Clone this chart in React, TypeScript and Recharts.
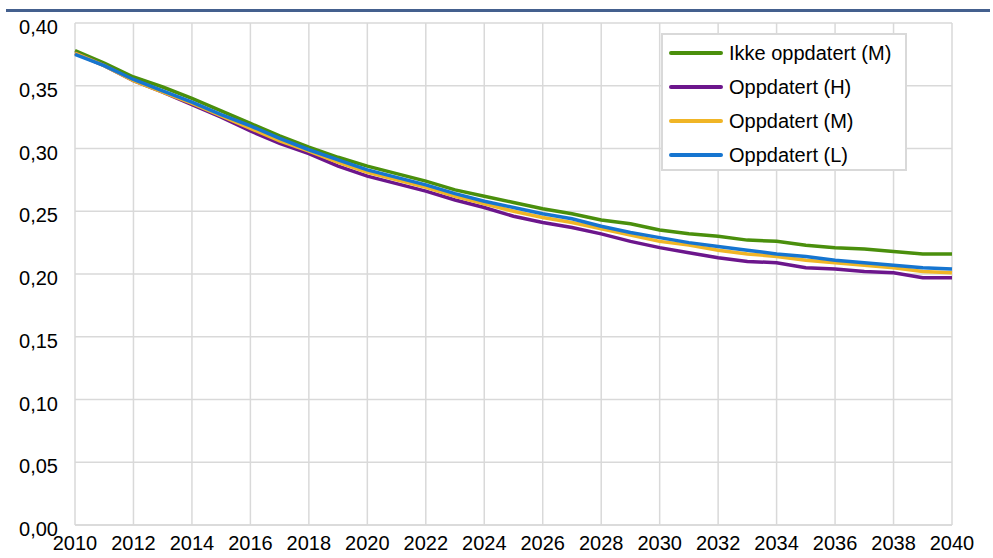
import { CartesianGrid, Line, LineChart, XAxis, YAxis } from "recharts";

const years = [
  2010, 2011, 2012, 2013, 2014, 2015, 2016, 2017, 2018, 2019, 2020, 2021, 2022, 2023, 2024, 2025,
  2026, 2027, 2028, 2029, 2030, 2031, 2032, 2033, 2034, 2035, 2036, 2037, 2038, 2039, 2040,
];

const ikkeOppdatertM = [
  0.378, 0.368, 0.357, 0.349, 0.34, 0.33, 0.32, 0.31, 0.301, 0.293, 0.286, 0.28, 0.274, 0.267, 0.262, 0.257,
  0.252, 0.248, 0.243, 0.24, 0.235, 0.232, 0.23, 0.227, 0.226, 0.223, 0.221, 0.22, 0.218, 0.216, 0.216,
];
const oppdatertH = [
  0.376, 0.366, 0.354, 0.345, 0.335, 0.325, 0.314, 0.304, 0.296, 0.286, 0.278, 0.272, 0.266, 0.259, 0.253, 0.246,
  0.241, 0.237, 0.232, 0.226, 0.221, 0.217, 0.213, 0.21, 0.209, 0.205, 0.204, 0.202, 0.201, 0.197, 0.197,
];
const oppdatertM = [
  0.376, 0.366, 0.354, 0.345, 0.336, 0.326, 0.316, 0.306, 0.298, 0.289, 0.281, 0.275, 0.269, 0.262, 0.256, 0.25,
  0.245, 0.241, 0.236, 0.231, 0.226, 0.223, 0.219, 0.216, 0.214, 0.211, 0.209, 0.207, 0.205, 0.202, 0.201,
];
const oppdatertL = [
  0.375, 0.366, 0.355, 0.346, 0.337, 0.327, 0.318, 0.308, 0.299, 0.291, 0.283, 0.277, 0.271, 0.264, 0.258, 0.253,
  0.248, 0.244, 0.238, 0.233, 0.229, 0.225, 0.222, 0.219, 0.216, 0.214, 0.211, 0.209, 0.207, 0.205, 0.204,
];

const xTicks = [2010, 2012, 2014, 2016, 2018, 2020, 2022, 2024, 2026, 2028, 2030, 2032, 2034, 2036, 2038, 2040];
const yTicks = [0, 0.05, 0.1, 0.15, 0.2, 0.25, 0.3, 0.35, 0.4];

const series = [
  { key: "ikkeM", name: "Ikke oppdatert (M)", color: "#4A8F0C", values: ikkeOppdatertM },
  { key: "oppH", name: "Oppdatert (H)", color: "#6C168C", values: oppdatertH },
  { key: "oppM", name: "Oppdatert (M)", color: "#F0B526", values: oppdatertM },
  { key: "oppL", name: "Oppdatert (L)", color: "#1675D0", values: oppdatertL },
];

const data = years.map((year, i) => {
  const row: Record<string, number> = { year };
  series.forEach((s) => (row[s.key] = s.values[i]));
  return row;
});

const FONT = "'Liberation Sans', Arial, sans-serif";

function XTick({ x, y, payload }: any) {
  return (
    <text x={x} y={y + 17} textAnchor="middle" fontSize={20} fontFamily={FONT} fill="#000">
      {payload.value}
    </text>
  );
}

function YTick({ x, y, payload }: any) {
  return (
    <text x={x - 9} y={y + 11} textAnchor="end" fontSize={20} fontFamily={FONT} fill="#000">
      {payload.value.toFixed(2).replace(".", ",")}
    </text>
  );
}

function LegendBox() {
  return (
    <div
      style={{
        position: "absolute",
        left: 661,
        top: 33,
        width: 246,
        height: 138,
        border: "2px solid #d9d9d9",
        background: "#fff",
        boxSizing: "border-box",
        paddingTop: 1,
        fontFamily: FONT,
        fontSize: 20,
      }}
    >
      {series.map((s) => (
        <div key={s.key} style={{ display: "flex", alignItems: "center", height: 34 }}>
          <div style={{ width: 54, height: 4, marginLeft: 6, marginRight: 6, background: s.color, borderRadius: 2 }} />
          <span>{s.name}</span>
        </div>
      ))}
    </div>
  );
}

export default function App() {
  return (
    <div style={{ position: "absolute", left: 0, top: 0, width: 993, height: 558, background: "#fff" }}>
      <div style={{ position: "absolute", left: 6, top: 9, width: 984, height: 3, background: "#44608E" }} />
      <LineChart width={993} height={558} data={data} margin={{ top: 23, right: 41, left: 0, bottom: 0 }}>
        <CartesianGrid stroke="#d9d9d9" strokeWidth={1.5} />
        <XAxis
          dataKey="year"
          type="number"
          domain={[2010, 2040]}
          ticks={xTicks}
          interval={0}
          height={33}
          axisLine={{ stroke: "#d9d9d9", strokeWidth: 1.5 }}
          tickLine={false}
          tick={<XTick />}
        />
        <YAxis
          type="number"
          domain={[0, 0.4]}
          ticks={yTicks}
          interval={0}
          width={75}
          axisLine={false}
          tickLine={false}
          tick={<YTick />}
        />
        {series.map((s) => (
          <Line
            key={s.key}
            dataKey={s.key}
            name={s.name}
            stroke={s.color}
            strokeWidth={3.5}
            dot={false}
            type="linear"
            isAnimationActive={false}
          />
        ))}
      </LineChart>
      <LegendBox />
    </div>
  );
}
